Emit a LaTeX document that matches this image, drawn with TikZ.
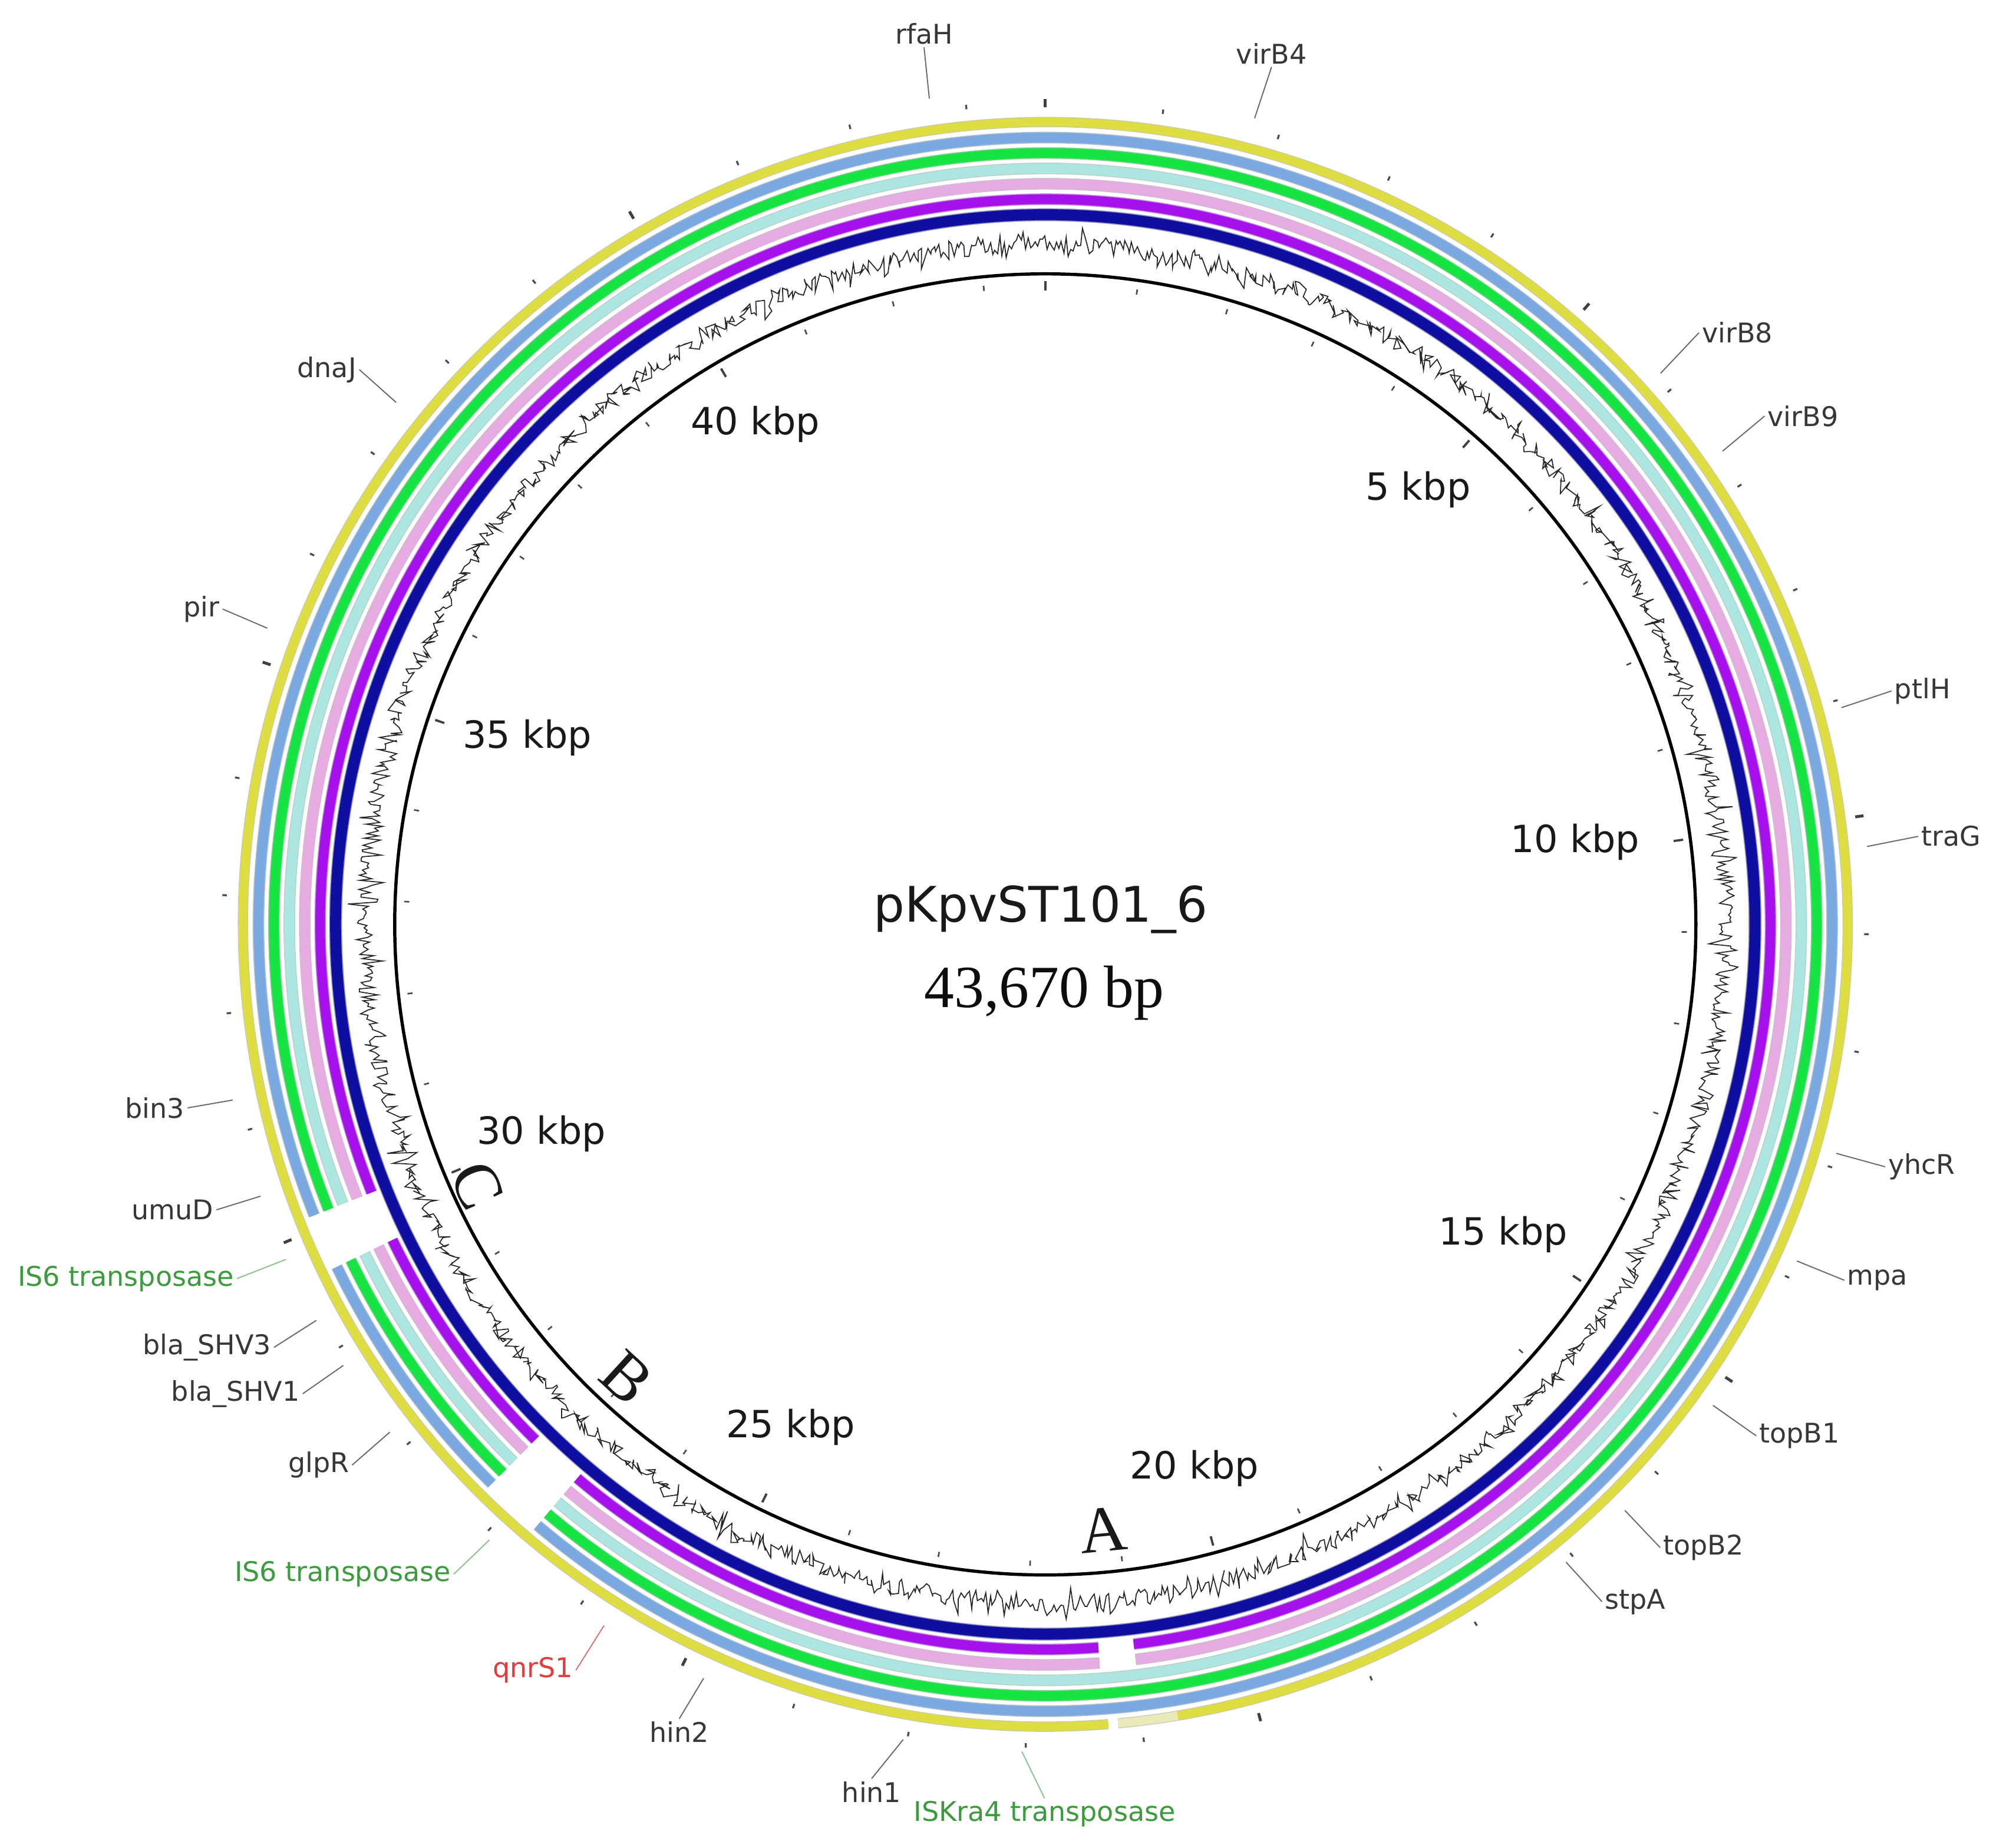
\documentclass[tikz,border=0pt]{standalone}
\usepackage{fontspec}
\setmainfont{DejaVu Sans}
\newfontfamily\serifface{Liberation Serif}
\definecolor{ringY}{RGB}{222,222,66}
\definecolor{ringYfade}{RGB}{234,234,185}
\definecolor{ringB}{RGB}{122,168,224}
\definecolor{ringG}{RGB}{22,228,66}
\definecolor{ringC}{RGB}{172,230,224}
\definecolor{ringP}{RGB}{230,172,226}
\definecolor{ringV}{RGB}{166,16,236}
\definecolor{ringN}{RGB}{14,14,160}
\definecolor{lblgray}{RGB}{55,55,55}
\definecolor{lnkgray}{RGB}{105,105,105}
\definecolor{lblgreen}{RGB}{60,155,60}
\definecolor{lblred}{RGB}{228,60,60}
\newcommand\ringarc[5]{%
  \draw[line width=#3+0.3mm, #1!65!black, opacity=0.45] (#4:#2) arc[start angle=#4, end angle=#5, radius=#2];
  \draw[line width=#3, #1] (#4:#2) arc[start angle=#4, end angle=#5, radius=#2];}
\begin{document}
\begin{tikzpicture}[x=0.2mm,y=0.2mm,
  gene/.style={font=\fontsize{12}{14}\selectfont, text=lblgray, inner sep=0.4mm},
  genegreen/.style={gene, text=lblgreen},
  genered/.style={gene, text=lblred},
  lnk/.style={draw=lnkgray, line width=0.5pt},
  lnkgreen/.style={draw=lblgreen!60, line width=0.5pt},
  lnkred/.style={draw=lblred!75, line width=0.5pt},
  kbp/.style={font=\fontsize{16.6}{19}\selectfont, text=black!90},
  letter/.style={font=\serifface\fontsize{29}{31}\selectfont, text=black!90, inner sep=0pt},
  gcline/.style={draw=black!85, line width=0.45pt},
  minortick/.style={draw=black!70, line width=0.3mm},
  majortick/.style={draw=black!75, line width=0.45mm}]
\useasboundingbox (0,0) rectangle (1568,-1437);
\fill[white] (0,0) rectangle (1568,-1437);
\coordinate (ctr) at (813,-719);

\begin{scope}[shift={(813,-719)}]
  % yellow ring with small gap and faded part
  \ringarc{ringY}{624}{1.3mm}{279.5}{634.5}
  \ringarc{ringYfade}{624}{1.3mm}{275.2}{279.5}
  % blue, green, cyan: gaps C and B
  \foreach \col/\rr in {ringB/612, ringG/600, ringC/588}{
    \ringarc{\col}{\rr}{1.5mm}{205.8}{225.3}
    \ringarc{\col}{\rr}{1.5mm}{229.8}{561.7}
  }
  % pink, purple: gaps C, B and A
  \foreach \col/\rr in {ringP/576, ringV/564}{
    \ringarc{\col}{\rr}{1.5mm}{205.8}{225.3}
    \ringarc{\col}{\rr}{1.5mm}{229.8}{274.2}
    \ringarc{\col}{\rr}{1.5mm}{277.0}{561.7}
  }
  % navy full ring
  \ringarc{ringN}{552}{1.7mm}{0}{360}
  % GC plot
  \pgfmathsetseed{4711}
  \draw[gcline] plot[samples=1800, domain=0:360, variable=\t] (\t:{529+14*(rnd-0.5)+15*(2*rnd-1)*(2*rnd-1)*(2*rnd-1)});
  % backbone circle
  \draw[line width=0.5mm, black] (0,0) circle (506);
  % ticks every kbp (43,670 bp)
  \foreach \k in {0,...,43}{
    \pgfmathsetmacro\aa{90-\k*8.24364}
    \draw[minortick] (\aa:637) -- (\aa:640.5);
    \draw[minortick, line width=0.25mm] (\aa:495) -- (\aa:499);
  }
  \foreach \k in {0,5,...,40}{
    \pgfmathsetmacro\aa{90-\k*8.24364}
    \draw[majortick] (\aa:635.5) -- (\aa:642);
    \draw[majortick, line width=0.35mm] (\aa:493) -- (\aa:500.5);
  }
\end{scope}

% centre title
\node[font=\fontsize{21.7}{24}\selectfont, text=black!90, anchor=base] (title) at (809.5,-717) {pKpvST101\_6};
\node[font=\serifface\fontsize{26.5}{29}\selectfont, text=black!95, anchor=base] (size) at (812,-783.5) {43,670 bp};

% kbp labels
\node[kbp] (k5) at (1103,-381) {5 kbp};
\node[kbp] (k10) at (1225,-655) {10 kbp};
\node[kbp] (k15) at (1169,-960) {15 kbp};
\node[kbp] (k20) at (929,-1142) {20 kbp};
\node[kbp] (k25) at (615,-1110) {25 kbp};
\node[kbp] (k30) at (421,-882) {30 kbp};
\node[kbp] (k35) at (410,-574) {35 kbp};
\node[kbp] (k40) at (587.5,-330) {40 kbp};

% region letters
\node[letter, rotate=5.5] (regA) at (858,-1190) {A};
\node[letter, rotate=-42.5] (regB) at (487.4,-1071.7) {B};
\node[letter, rotate=-66] (regC) at (371,-922) {C};

% gene labels: top
\node[gene] (rfaH) at (718.7,-26.3) {rfaH};
\coordinate (rfaHtip) at (722.8,-76.7);
\draw[lnk] (rfaH.south) -- (rfaHtip);
\node[gene] (virB4) at (989,-41.7) {virB4};
\coordinate (virB4tip) at (975.8,-92);
\draw[lnk] (virB4.south) -- (virB4tip);

% right side
\node[gene, anchor=west] (virB8) at (1321.4,-258.8) {virB8};
\coordinate (virB8tip) at (1291.6,-290.3);
\draw[lnk] (virB8.west) -- (virB8tip);
\node[gene, anchor=west] (virB9) at (1372.5,-323.6) {virB9};
\coordinate (virB9tip) at (1339.8,-350.9);
\draw[lnk] (virB9.west) -- (virB9tip);
\node[gene, anchor=west] (ptlH) at (1471.2,-537.4) {ptlH};
\coordinate (ptlHtip) at (1432.2,-550.4);
\draw[lnk] (ptlH.west) -- (ptlHtip);
\node[gene, anchor=west] (traG) at (1492,-650.5) {traG};
\coordinate (traGtip) at (1452.1,-658.4);
\draw[lnk] (traG.west) -- (traGtip);
\node[gene, anchor=west] (yhcR) at (1466.2,-907.5) {yhcR};
\coordinate (yhcRtip) at (1428.2,-897.1);
\draw[lnk] (yhcR.west) -- (yhcRtip);
\node[gene, anchor=west] (mpa) at (1434.5,-995.8) {mpa};
\coordinate (mpatip) at (1397.6,-980.8);
\draw[lnk] (mpa.west) -- (mpatip);
\node[gene, anchor=west] (topB1) at (1366,-1116.8) {topB1};
\coordinate (topB1tip) at (1332.3,-1093.1);
\draw[lnk] (topB1.west) -- (topB1tip);
\node[gene, anchor=west] (topB2) at (1291.2,-1203.7) {topB2};
\coordinate (topB2tip) at (1263.8,-1174.8);
\draw[lnk] (topB2.west) -- (topB2tip);
\node[gene, anchor=west] (stpA) at (1246,-1245.8) {stpA};
\coordinate (stpAtip) at (1218,-1215);
\draw[lnk] (stpA.west) -- (stpAtip);

% bottom
\node[genegreen] (iskra) at (812.4,-1411) {ISKra4 transposase};
\coordinate (iskratip) at (794.8,-1362.4);
\draw[lnkgreen] (iskra.north) -- (iskratip);
\node[gene] (hin1) at (677.9,-1393.8) {hin1};
\coordinate (hin1tip) at (702.5,-1353);
\draw[lnk] (hin1.north) -- (hin1tip);
\node[gene] (hin2) at (528.3,-1347.2) {hin2};
\coordinate (hin2tip) at (547.3,-1305.3);
\draw[lnk] (hin2.north) -- (hin2tip);

% left side
\node[genered, anchor=east] (qnrS1) at (447.9,-1299.1) {qnrS1};
\coordinate (qnrS1tip) at (469.8,-1264.3);
\draw[lnkred] (qnrS1.east) -- (qnrS1tip);
\node[genegreen, anchor=east] (isSixB) at (352.9,-1224.4) {IS6 transposase};
\coordinate (isSixBtip) at (380.6,-1197.8);
\draw[lnkgreen] (isSixB.east) -- (isSixBtip);
\node[gene, anchor=east] (glpR) at (273.9,-1139.5) {glpR};
\coordinate (glpRtip) at (303.2,-1113.9);
\draw[lnk] (glpR.east) -- (glpRtip);
\node[gene, anchor=east] (shvOne) at (235.5,-1084) {bla\_SHV1};
\coordinate (shvOnetip) at (267.1,-1062);
\draw[lnk] (shvOne.east) -- (shvOnetip);
\node[gene, anchor=east] (shvThree) at (213.1,-1048) {bla\_SHV3};
\coordinate (shvThreetip) at (246,-1027);
\draw[lnk] (shvThree.east) -- (shvThreetip);
\node[genegreen, anchor=east] (isSixA) at (184.2,-994.5) {IS6 transposase};
\coordinate (isSixAtip) at (222.3,-979.6);
\draw[lnkgreen] (isSixA.east) -- (isSixAtip);
\node[gene, anchor=east] (umuD) at (168.4,-941) {umuD};
\coordinate (umuDtip) at (202.6,-930.4);
\draw[lnk] (umuD.east) -- (umuDtip);
\node[gene, anchor=east] (bin3) at (145.9,-861.7) {bin3};
\coordinate (bin3tip) at (181,-855.6);
\draw[lnk] (bin3.east) -- (bin3tip);
\node[gene, anchor=east] (pir) at (173.1,-473.7) {pir};
\coordinate (pirtip) at (207.9,-488.6);
\draw[lnk] (pir.east) -- (pirtip);
\node[gene, anchor=east] (dnaJ) at (279.5,-287.5) {dnaJ};
\coordinate (dnaJtip) at (308.1,-313);
\draw[lnk] (dnaJ.east) -- (dnaJtip);
\end{tikzpicture}
\end{document}
